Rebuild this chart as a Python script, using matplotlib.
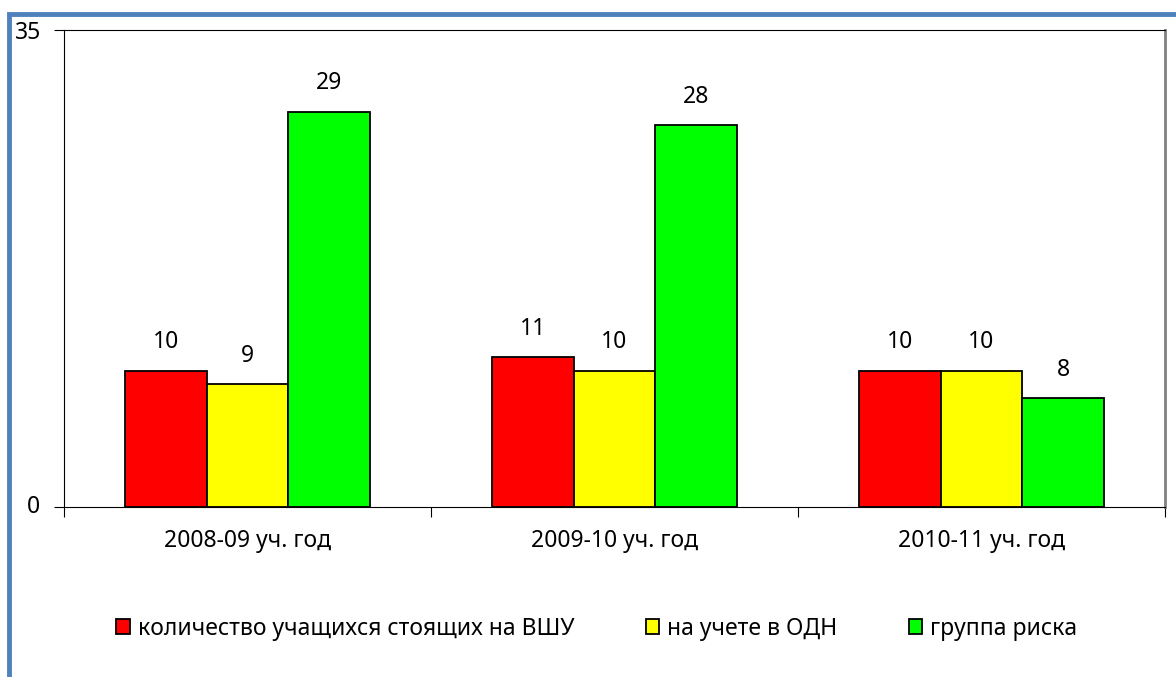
import matplotlib.pyplot as plt
import numpy as np
from matplotlib.patches import Rectangle

plt.rcParams['font.family'] = ['Noto Sans', 'DejaVu Sans']

years = ["2008-09 уч. год", "2009-10 уч. год", "2010-11 уч. год"]
names = ["количество учащихся стоящих на ВШУ", "на учете в ОДН", "группа риска"]
vshu = [10, 11, 10]
odn = [9, 10, 10]
risk = [29, 28, 8]
colors = ["#FF0000", "#FFFF00", "#00FF00"]

fs = 16.5

fig = plt.figure(figsize=(11.76, 6.77), dpi=100)
ax = fig.add_axes([64/1176, 1 - 507/677, (1165 - 64)/1176, (507 - 30)/677])

x = np.arange(len(years))
w = 0.222
for i, (vals, c, nm) in enumerate(zip([vshu, odn, risk], colors, names)):
    bars = ax.bar(x + (i - 1)*w, vals, w, color=c, edgecolor='black', linewidth=1.3, label=nm)
    for b, v in zip(bars, vals):
        ax.text(b.get_x() + b.get_width()/2, v + 1.2, str(v), ha='center', va='bottom', fontsize=fs)

ax.set_xlim(-0.5, 2.5)
ax.set_ylim(0, 35)
ax.set_yticks([0, 35])
ax.set_yticklabels([])
ax.text(-0.028, 0, "0", transform=ax.get_yaxis_transform(), ha='center', va='center', fontsize=fs)
ax.text(-0.021, 34.8, "35", transform=ax.get_yaxis_transform(), ha='right', va='center', fontsize=fs)
ax.set_xticks([-0.5, 0.5, 1.5, 2.5])
ax.set_xticklabels([])
ax.set_xticks(x, minor=True)
ax.set_xticklabels(years, minor=True, fontsize=fs)
ax.tick_params(axis='x', which='minor', length=0, pad=16)
ax.tick_params(axis='x', which='major', direction='out', length=7)
ax.tick_params(axis='y', direction='out', length=7)
ax.spines['right'].set_color('#808080')
ax.spines['right'].set_linewidth(2)

ax.legend(loc='center', bbox_to_anchor=(0.484, -0.255), ncol=3, frameon=False, fontsize=fs,
          handlelength=0.6, handleheight=0.6, handletextpad=0.35, columnspacing=3.1)

# blue frame around chart
fig.patches.append(Rectangle((9/1176, -0.1), 1.2, 1 - 14/677 + 0.1, transform=fig.transFigure,
                             fill=False, edgecolor='#4F81BD', linewidth=3.5))

fig.savefig("out.png", dpi=100)
